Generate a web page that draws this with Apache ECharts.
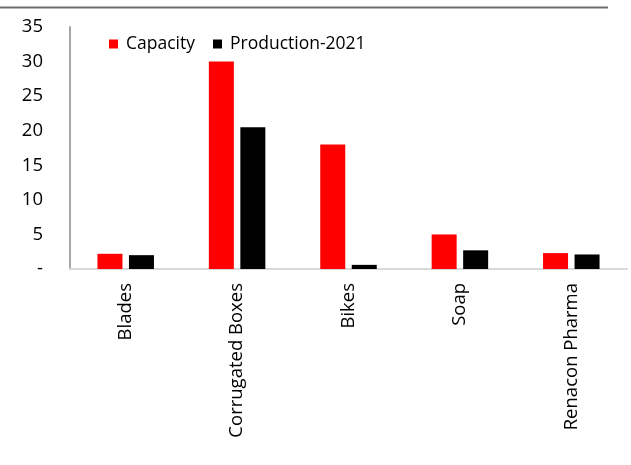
<!DOCTYPE html>
<html><head><meta charset="utf-8">
<script src="https://cdn.jsdelivr.net/npm/echarts@6/dist/echarts.min.js"></script>
<style>html,body{margin:0;padding:0;background:#fff}#c{width:631px;height:465px}</style>
</head><body><div id="c"></div>
<script>
const categories = ['Blades', 'Corrugated Boxes', 'Bikes', 'Soap', 'Renacon Pharma'];
const capacity = [2.2, 30, 18, 5, 2.3];
const production2021 = [2.0, 20.5, 0.6, 2.7, 2.1];
const yTicks = [0, 5, 10, 15, 20, 25, 30, 35];

const chart = echarts.init(document.getElementById('c'), null, {renderer: 'canvas'});
const font = 'Open Sans';
chart.setOption({
  animation: false,
  backgroundColor: '#fff',
  graphic: [{
    type: 'line', shape: {x1: 0, y1: 7.5, x2: 608, y2: 7.5},
    style: {stroke: '#6e6e6e', lineWidth: 2}
  }],
  legend: {
    left: 104, top: 30,
    itemWidth: 9, itemHeight: 9, itemGap: 18,
    icon: 'rect',
    textStyle: {fontFamily: font, fontSize: 17.5, color: '#000', padding: [0, 0, 0, 3]},
    data: ['Capacity', 'Production-2021']
  },
  grid: {left: 70, right: 4, top: 27, bottom: 196, containLabel: false},
  xAxis: {
    type: 'category', data: categories,
    axisLine: {lineStyle: {color: '#d9d9d9', width: 2}},
    axisTick: {show: false},
    axisLabel: {rotate: 90, interval: 0, margin: 14, fontFamily: font, fontSize: 18.5, color: '#000'}
  },
  yAxis: {
    type: 'value', min: 0, max: 35, interval: 5,
    axisLine: {show: true, lineStyle: {color: '#a6a6a6', width: 2}},
    axisTick: {show: false},
    splitLine: {show: false},
    axisLabel: {margin: 27, fontFamily: font, fontSize: 18.5, color: '#000',
      formatter: v => (v === 0 ? '-' : String(v))}
  },
  series: [
    {name: 'Capacity', type: 'bar', data: capacity, barWidth: 25, barGap: '26%',
     itemStyle: {color: '#ff0000'}},
    {name: 'Production-2021', type: 'bar', data: production2021, barWidth: 25,
     itemStyle: {color: '#000000'}}
  ]
});
</script></body></html>
